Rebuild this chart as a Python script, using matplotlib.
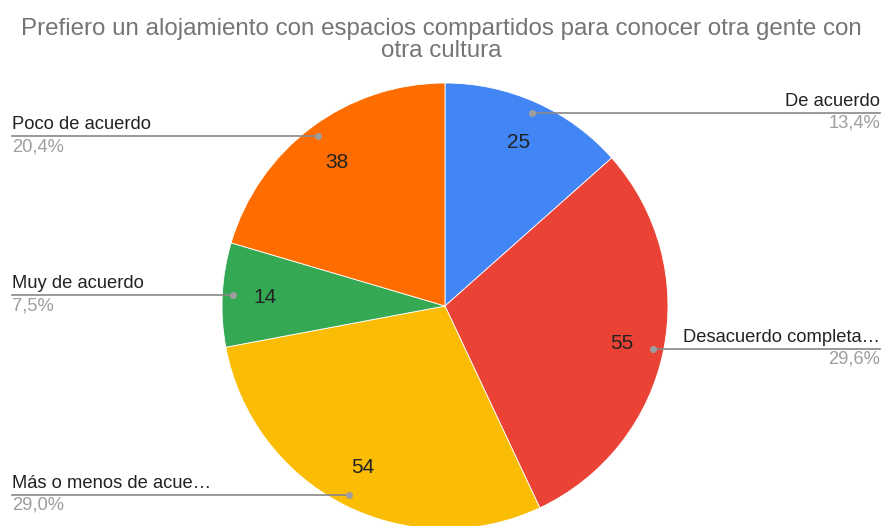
import numpy as np
import matplotlib
matplotlib.use("Agg")
import matplotlib.pyplot as plt

plt.rcParams['font.family'] = ['Liberation Sans', 'DejaVu Sans']

# Data
title = "Prefiero un alojamiento con espacios compartidos para conocer otra gente con\notra cultura"
categories = ["De acuerdo", "Desacuerdo completa…", "Más o menos de acue…",
              "Muy de acuerdo", "Poco de acuerdo"]
counts = [25, 55, 54, 14, 38]
percents = ["13,4%", "29,6%", "29,0%", "7,5%", "20,4%"]
colors = ["#4285F4", "#EA4335", "#FBBC04", "#34A853", "#FF6D01"]

W, H = 883, 526
R = 223.0            # pie radius in pixels
cx, cy = 445, 306    # pie centre in pixels (from top-left)

fig = plt.figure(figsize=(W / 100, H / 100), dpi=100)
ax = fig.add_axes([0, 0, 1, 1])

wedges, _ = ax.pie(counts, colors=colors, startangle=90, counterclock=False,
                   radius=1, wedgeprops=dict(linewidth=0.6, edgecolor="white"))
ax.set_xlim(-cx / R, (W - cx) / R)
ax.set_ylim(-(H - cy) / R, cy / R)
ax.set_aspect('equal')
ax.axis('off')

left_x = ax.get_xlim()[0] + 12 / R
right_x = ax.get_xlim()[1] - 3 / R

for w, cat, n, pct in zip(wedges, categories, counts, percents):
    mid = np.deg2rad((w.theta1 + w.theta2) / 2)
    # value inside the slice
    ax.text(0.81 * np.cos(mid), 0.81 * np.sin(mid) - 1 / R, str(n), ha='center', va='center',
            fontsize=15, color="#222222")
    # leader dot and line
    dx, dy = 0.95 * np.cos(mid), 0.95 * np.sin(mid)
    ax.plot([dx], [dy], 'o', color="#9E9E9E", markersize=4, zorder=5)
    if dx > 0:
        ax.plot([dx, right_x], [dy, dy], color="#888888", lw=1.2, zorder=4)
        ha, tx = 'right', right_x
    else:
        ax.plot([left_x, dx], [dy, dy], color="#888888", lw=1.2, zorder=4)
        ha, tx = 'left', left_x
    ax.text(tx, dy + 3 / R, cat, ha=ha, va='bottom', fontsize=13.2, color="#222222")
    ax.text(tx, dy - 2 / R, pct, ha=ha, va='top', fontsize=13.2, color="#9E9E9E")

fig.text(0.5, 1 - 40 / H, title, ha='center', va='center', fontsize=17.4,
         color="#757575", linespacing=0.95)

fig.savefig("out.png", dpi=100)
